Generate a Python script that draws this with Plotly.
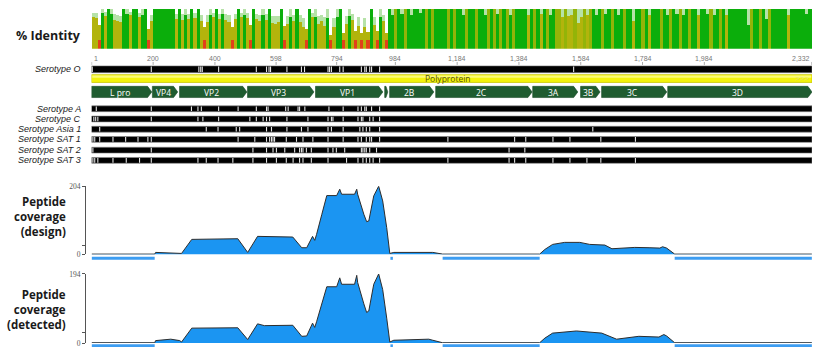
import plotly.graph_objects as go

W, H = 822, 352
SEQ_LEN = 2332

# ---------------- data ----------------
# % identity, 10-residue bins. class: G green(100%), g green with pale dip,
# O olive full, o olive (partial), h olive with pale dip, R red low identity
identity_bin = 10
identity_class = (
    "ooRgoGgooo" "GgoGGogGRo" "GGGGGGGoGo" "goGoGoRogo" "GogooRoGog"
    "oRGoogoGoo" "oGRogoGooR" "GogooogRog" "GRogoRoRoR" "GoRgoRGgOG"
    "gOGgGGgGOG" "OGGGGOGOGG" "gOGGOGGgOG" "OgOGOgOGGG" "GhGOGhGOgG"
    "OOhOhhOhhO" "hOGgGOgGOG" "gGOGGhGGOG" "hGGGOGgOGg" "OgGOGGhGGg"
    "OgGOGhGGGG" "GGgOGGOGgO" "GGGGGhGGGG" "GgGG"
)
identity_pct = [
    80, 78, 60, 90, 82, 100, 88, 72, 70, 66,
    100, 88, 85, 100, 100, 80, 85, 100, 50, 70,
    100, 100, 100, 100, 100, 100, 100, 75, 100, 72,
    85, 75, 100, 78, 100, 70, 55, 68, 85, 80,
    100, 75, 88, 72, 68, 55, 75, 100, 80, 85,
    78, 60, 100, 75, 70, 85, 72, 100, 65, 62,
    66, 100, 58, 62, 80, 70, 100, 68, 55, 50,
    100, 80, 80, 62, 70, 58, 78, 35, 55, 80,
    100, 40, 62, 82, 72, 45, 58, 40, 55, 42,
    100, 60, 45, 80, 70, 40, 100, 85, 100, 100,
    88, 100, 100, 85, 100, 100, 90, 100, 100, 100,
    100, 100, 100, 100, 100, 100, 100, 100, 100, 100,
    85, 100, 100, 100, 100, 100, 100, 85, 100, 100,
    100, 88, 100, 100, 100, 85, 100, 100, 100, 100,
    100, 85, 100, 100, 100, 88, 100, 100, 85, 100,
    100, 100, 80, 100, 82, 85, 100, 65, 80, 100,
    85, 100, 100, 85, 100, 100, 88, 100, 100, 100,
    85, 100, 100, 100, 100, 70, 100, 100, 100, 100,
    85, 100, 100, 100, 100, 100, 85, 100, 100, 88,
    100, 85, 100, 100, 100, 100, 85, 100, 100, 88,
    100, 85, 100, 100, 100, 85, 100, 100, 100, 100,
    100, 100, 60, 100, 100, 100, 100, 100, 75, 100,
    100, 100, 100, 100, 100, 85, 100, 100, 100, 100,
    100, 88, 100, 100,
]
red_part = 22  # red (low identity) portion at the bottom of mixed red bins

ruler_ticks = [1, 200, 400, 598, 794, 984, 1184, 1384, 1584, 1784, 1984, 2332]
ruler_text = ["1", "200", "400", "598", "794", "984", "1,184", "1,384", "1,584",
              "1,784", "1,984", "2,332"]

serotype_names = ["Serotype O", "Serotype A", "Serotype C", "Serotype Asia 1",
                  "Serotype SAT 1", "Serotype SAT 2", "Serotype SAT 3"]
variants_O = [3, 194, 348, 354, 359, 412, 534, 567, 575, 580, 633, 680, 690, 766, 771,
              777, 804, 815, 874, 885, 890, 901, 907, 933, 1561]
variants_A = [16, 194, 324, 345, 356, 412, 475, 534, 567, 572, 629, 637, 669, 674, 691,
              769, 815, 863, 874, 885, 890, 907, 933]
variants_C = [8, 14, 21, 194, 345, 361, 412, 513, 534, 556, 567, 577, 633, 701, 766, 777,
              782, 815, 863, 874, 879, 901, 912, 933]
variants_Asia1 = [27, 372, 410, 469, 480, 567, 583, 633, 680, 701, 766, 777, 815, 869,
                  879, 890, 901, 933, 1623]
variants_SAT1 = [5, 11, 27, 70, 111, 151, 183, 194, 475, 529, 567, 577, 583, 588, 593,
                 631, 664, 685, 717, 766, 815, 863, 874, 890, 901, 907, 933, 1154, 1370,
                 1406, 1494, 1549, 1649, 1761]
variants_SAT2 = [5, 194, 523, 567, 588, 599, 626, 658, 674, 680, 685, 696, 712, 766, 782,
                 793, 820, 874, 879, 885, 890, 901, 923, 1352, 1403]
variants_SAT3 = [5, 11, 21, 70, 113, 156, 194, 345, 372, 410, 458, 523, 567, 599, 631,
                 653, 674, 685, 712, 766, 826, 863, 879, 890, 901, 912, 933, 1154, 1352,
                 1370, 1406, 1494, 1549, 1604, 1649, 1761]
serotype_variants = [variants_O, variants_A, variants_C, variants_Asia1,
                     variants_SAT1, variants_SAT2, variants_SAT3]

feature_names = ["L pro", "VP4", "VP2", "VP3", "VP1", "", "2B", "2C", "3A", "3B", "3C", "3D"]
feature_start = [1, 198, 286, 506, 726, 950, 966, 1115, 1429, 1584, 1652, 1866]
feature_end = [195, 279, 503, 720, 943, 959, 1108, 1426, 1574, 1646, 1862, 2332]

polyprotein_label = "Polyprotein"
polyprotein_label_pos = 1153

design_pos = [1, 205, 208, 286, 292, 325, 474, 506, 538, 652, 681, 697, 716, 723, 729,
              746, 762, 794, 804, 810, 852, 859, 862, 882, 891, 898, 914, 930, 943, 956,
              966, 979, 1105, 1137, 1451, 1468, 1493, 1532, 1581, 1613, 1662, 1685, 1710,
              1759, 1808, 1840, 1849, 1862, 1888, 2332]
design_cov = [1, 1, 6, 5, 3, 45, 47, 6, 54, 52, 20, 20, 54, 42, 60,
              120, 176, 176, 195, 180, 180, 195, 180, 120, 98, 100, 175, 204, 160, 80,
              3, 6, 6, 1, 1, 15, 30, 36, 36, 30, 28, 17, 18,
              21, 20, 19, 23, 19, 1, 1]
design_max = 204

detected_pos = [1, 205, 208, 257, 286, 292, 325, 474, 506, 538, 560, 652, 681, 697, 716,
                723, 729, 746, 762, 794, 804, 810, 852, 859, 862, 882, 891, 898, 914, 930,
                943, 956, 966, 979, 1092, 1105, 1137, 1451, 1468, 1493, 1570, 1652, 1700,
                1772, 1837, 1853, 1862, 1888, 2332]
detected_cov = [1, 1, 7, 11, 7, 3, 42, 43, 10, 54, 49, 50, 19, 20, 56,
                44, 60, 110, 158, 158, 183, 165, 165, 190, 170, 110, 86, 90, 165, 194,
                150, 70, 3, 8, 11, 8, 1, 1, 14, 28, 34, 28, 11,
                19, 17, 24, 20, 1, 1]
detected_max = 194

design_gaps = [(1, 205), (968, 976), (1137, 1451), (1888, 2332)]
detected_gaps = [(1, 205), (968, 976), (1137, 1451), (1888, 2332)]

# ---------------- layout constants (pixels) ----------------
X_LEFT, X_RIGHT = 91.5, 812
IDENT_TOP, IDENT_BOT = 5, 46
SEROTYPE_O_Y = (63.5, 70.5)
POLY_Y = (72.5, 80.5)
FEAT_Y = (84.5, 96)
SEROTYPE_ROWS_Y = [(104.5, 110.5), (115, 121), (125.5, 131.5), (136, 142),
                   (147, 153), (157.5, 163.5)]
DESIGN_Y = (187, 257)
DETECT_Y = (277, 348)
AXIS_X = 85


def py(p):
    return 1 - p / H


fig = go.Figure()

# ---- identity bars ----
centers = [1 + i * identity_bin + (identity_bin - 1) / 2 for i in range(len(identity_class))]
red, olive, olive_col, green, pale = [], [], [], [], []
for c, p in zip(identity_class, identity_pct):
    r = red_part if c == 'R' else 0
    red.append(r)
    olive.append(p - r if c in 'oOhR' else 0)
    olive_col.append('#93b408' if c == 'O' else '#b2b40c')
    green.append(p if c in 'Gg' else 0)
    if c in 'gh':
        pale.append(100 - p)
    elif c == 'o':
        pale.append((100 - p) * 0.5)
    else:
        pale.append(0)

for vals, col in [(red, '#e2401a'), (olive, olive_col), (green, '#0bae0b'), (pale, '#b6e2a8')]:
    fig.add_trace(go.Bar(x=centers, y=vals, width=identity_bin,
                         marker=dict(color=col, line=dict(width=0)),
                         xaxis='x', yaxis='y', hoverinfo='skip', showlegend=False))

shapes = []
annotations = []

# ---- ruler ----
tx, ty = [], []
for t, lab in zip(ruler_ticks, ruler_text):
    tx += [t, t, None]
    ty += [59.5, 62.5, None]
    anchor = 'left' if t == ruler_ticks[0] else ('right' if t == ruler_ticks[-1] else 'center')
    annotations.append(dict(x=t, y=56, xref='x', yref='y2', text=lab, showarrow=False,
                            xanchor=anchor, yanchor='middle',
                            font=dict(size=7, color='#777', family='Liberation Sans')))
fig.add_trace(go.Scatter(x=tx, y=ty, xaxis='x', yaxis='y2', mode='lines',
                         line=dict(color='#aaa', width=1), hoverinfo='skip', showlegend=False))

# ---- serotype bars ----
row_y = [SEROTYPE_O_Y] + SEROTYPE_ROWS_Y
for name, var, (y0, y1) in zip(serotype_names, serotype_variants, row_y):
    shapes.append(dict(type='rect', xref='x', yref='y2', x0=0.5, x1=SEQ_LEN + 0.5,
                       y0=y0, y1=y1, fillcolor='#000', line=dict(color='#888', width=0.6),
                       layer='below'))
    vx, vy = [], []
    for v in var:
        vx += [v, v, None]
        vy += [y0 + 0.6, y1 - 0.6, None]
    fig.add_trace(go.Scatter(x=vx, y=vy, xaxis='x', yaxis='y2', mode='lines',
                             line=dict(color='#e4e4e4', width=1.1), hoverinfo='skip',
                             showlegend=False))
    annotations.append(dict(x=82.5 / W, y=py((y0 + y1) / 2), xref='paper', yref='paper',
                            text='<i>%s</i>' % name, showarrow=False, xanchor='right',
                            yanchor='middle',
                            font=dict(size=9, color='#222', family='Liberation Sans')))

# ---- polyprotein ----
shapes.append(dict(type='rect', xref='x', yref='y2', x0=0.5, x1=SEQ_LEN + 0.5,
                   y0=POLY_Y[0], y1=POLY_Y[1], fillcolor='#f3f30c',
                   line=dict(color='#c8c800', width=0.8), layer='below'))
shapes.append(dict(type='rect', xref='x', yref='y2', x0=3, x1=SEQ_LEN - 2,
                   y0=POLY_Y[0] + 1, y1=POLY_Y[0] + 3.2, fillcolor='#fbfb78',
                   line=dict(width=0), layer='below'))
annotations.append(dict(x=polyprotein_label_pos, y=(POLY_Y[0] + POLY_Y[1]) / 2 + 0.3,
                        xref='x', yref='y2', text=polyprotein_label, showarrow=False,
                        font=dict(size=8.5, color='#55520a', family='Open Sans')))
annotations.append(dict(x=SEQ_LEN - 2, y=(POLY_Y[0] + POLY_Y[1]) / 2 + 0.3,
                        xref='x', yref='y2', text='&gt;&gt;&gt;', showarrow=False,
                        xanchor='right', font=dict(size=8, color='#dede70',
                                                   family='Liberation Sans')))

# ---- feature arrows ----
fy0, fy1 = FEAT_Y
fmid = (fy0 + fy1) / 2
for name, s, e in zip(feature_names, feature_start, feature_end):
    tip = min(13, (e - s) * 0.6)
    xs = [s - 0.5, e - tip, e + 0.5, e - tip, s - 0.5, s - 0.5]
    ys = [fy0, fy0, fmid, fy1, fy1, fy0]
    fig.add_trace(go.Scatter(x=xs, y=ys, xaxis='x', yaxis='y2', mode='lines',
                             fill='toself', fillcolor='#1f5c30',
                             line=dict(color='#174a25', width=0.6),
                             hoverinfo='skip', showlegend=False))
    if name:
        annotations.append(dict(x=(s + e - tip) / 2, y=fmid + 0.3, xref='x', yref='y2',
                                text=name, showarrow=False,
                                font=dict(size=8.5, color='#ffffff', family='Open Sans')))

# ---- coverage plots ----
for pos, cov, yax, gaps, gap_y in [(design_pos, design_cov, 'y3', design_gaps, 261),
                                     (detected_pos, detected_cov, 'y4', detected_gaps, 350.8)]:
    fig.add_trace(go.Scatter(x=pos, y=cov, xaxis='x', yaxis=yax, mode='lines',
                             fill='tozeroy', fillcolor='#1b95f2',
                             line=dict(color='#2d2d2d', width=1),
                             hoverinfo='skip', showlegend=False))
    gx, gy = [], []
    for a, b in gaps:
        gx += [a, b, None]
        gy += [gap_y, gap_y, None]
    fig.add_trace(go.Scatter(x=gx, y=gy, xaxis='x', yaxis='y2', mode='lines',
                             line=dict(color='#3c9df2', width=3),
                             hoverinfo='skip', showlegend=False))

# ---- left labels ----
annotations.append(dict(x=83 / W, y=py(32), xref='paper', yref='paper',
                        text='<b>% Identity</b>', showarrow=False, xanchor='right',
                        yanchor='middle',
                        font=dict(size=12.5, color='#1a1a1a', family='Open Sans')))
annotations.append(dict(x=67.5 / W, y=py(218.5), xref='paper', yref='paper',
                        text='<b>Peptide<br>coverage<br>(design)</b>', showarrow=False,
                        xanchor='right', yanchor='middle', align='right',
                        font=dict(size=11.5, color='#1a1a1a', family='Open Sans')))
annotations.append(dict(x=67.5 / W, y=py(313.5), xref='paper', yref='paper',
                        text='<b>Peptide<br>coverage<br>(detected)</b>', showarrow=False,
                        xanchor='right', yanchor='middle', align='right',
                        font=dict(size=11.5, color='#1a1a1a', family='Open Sans')))


def cov_axis(dom, vmax, mid):
    return dict(domain=[py(dom[1]), py(dom[0])], range=[0, vmax], anchor='free',
                position=AXIS_X / W, showline=True, linecolor='#555', linewidth=1,
                ticks='outside', ticklen=3, tickcolor='#555', tickwidth=1,
                tickvals=[0, mid, vmax], ticktext=['0', '', str(vmax)],
                tickfont=dict(size=7.5, color='#555', family='Liberation Serif'),
                showgrid=False, zeroline=False, fixedrange=True)


fig.update_layout(
    width=W, height=H, autosize=False,
    margin=dict(l=0, r=0, t=0, b=0),
    paper_bgcolor='white', plot_bgcolor='rgba(0,0,0,0)',
    barmode='stack', bargap=0,
    showlegend=False,
    xaxis=dict(domain=[X_LEFT / W, X_RIGHT / W], range=[0.5, SEQ_LEN + 0.5],
               visible=False, fixedrange=True),
    yaxis=dict(domain=[py(IDENT_BOT), py(IDENT_TOP)], range=[0, 100], visible=False,
               anchor='x', fixedrange=True),
    yaxis2=dict(domain=[0, 1], range=[H, 0], visible=False, anchor='x', fixedrange=True),
    yaxis3=cov_axis(DESIGN_Y, design_max, 28),
    yaxis4=cov_axis(DETECT_Y, detected_max, 29),
    shapes=shapes,
    annotations=annotations,
)

fig.write_html("out.html",
               config={'displayModeBar': False, 'staticPlot': True},
               post_script="document.body.style.margin='0';document.body.style.padding='0';"
                           "document.body.style.overflow='hidden';")
